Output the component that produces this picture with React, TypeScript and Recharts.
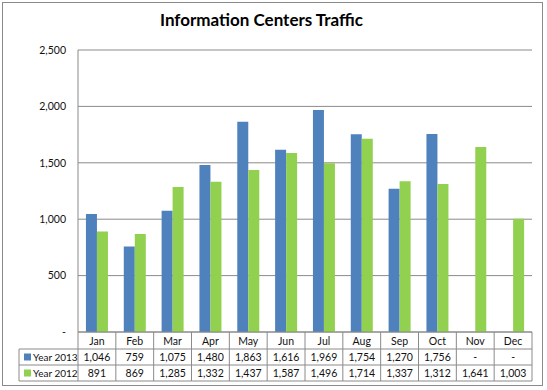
import React from "react";
import { BarChart, Bar, XAxis, YAxis, CartesianGrid } from "recharts";

const months = ["Jan", "Feb", "Mar", "Apr", "May", "Jun", "Jul", "Aug", "Sep", "Oct", "Nov", "Dec"];
const year2013: (number | null)[] = [1046, 759, 1075, 1480, 1863, 1616, 1969, 1754, 1270, 1756, null, null];
const year2012: number[] = [891, 869, 1285, 1332, 1437, 1587, 1496, 1714, 1337, 1312, 1641, 1003];
const yTicks = [0, 500, 1000, 1500, 2000, 2500];
const seriesNames = ["Year 2013", "Year 2012"];

const BLUE = "#4F81BD";
const GREEN = "#92D050";
const GRID = "#8a8a8a";
const FONT = "Lato, 'Liberation Sans', sans-serif";

const W = 547;
const H = 390;
const PLOT_LEFT = 78;
const PLOT_RIGHT = 532;
const PLOT_TOP = 50;
const PLOT_BOTTOM = 332;
const TABLE_LEFT = 19;
const ROW1 = 17;
const ROW2 = 33;
const ROW3 = 49;

const data = months.map((m, i) => ({ month: m, y2013: year2013[i], y2012: year2012[i] }));

const fmt = (v: number | null | undefined) => (v == null ? "-" : v.toLocaleString("en-US"));

const TableTick = (props: any) => {
  const { x, y, payload } = props;
  const i = payload.index;
  const colW = (PLOT_RIGHT - PLOT_LEFT) / months.length;
  const l = x - colW / 2;
  const r = x + colW / 2;
  const ts = { fontFamily: FONT, fontSize: 10.5, fill: "#111" } as const;
  const ls = { fontFamily: FONT, fontSize: 10, fill: "#111" } as const;
  return (
    <g>
      <line x1={r} x2={r} y1={y} y2={y + ROW3} stroke={GRID} />
      {i === 0 && <line x1={l} x2={l} y1={y} y2={y + ROW3} stroke={GRID} />}
      <line x1={l} x2={r} y1={y + ROW1} y2={y + ROW1} stroke={GRID} />
      <line x1={l} x2={r} y1={y + ROW2} y2={y + ROW2} stroke={GRID} />
      <line x1={l} x2={r} y1={y + ROW3} y2={y + ROW3} stroke={GRID} />
      <text x={x} y={y + 12.5} textAnchor="middle" {...ts}>{months[i]}</text>
      <text x={x} y={y + 29} textAnchor="middle" {...ts}>{fmt(year2013[i])}</text>
      <text x={x} y={y + 45} textAnchor="middle" {...ts}>{fmt(year2012[i])}</text>
      {i === 0 && (
        <g>
          <line x1={TABLE_LEFT} x2={l} y1={y + ROW1} y2={y + ROW1} stroke={GRID} />
          <line x1={TABLE_LEFT} x2={l} y1={y + ROW2} y2={y + ROW2} stroke={GRID} />
          <line x1={TABLE_LEFT} x2={l} y1={y + ROW3} y2={y + ROW3} stroke={GRID} />
          <line x1={TABLE_LEFT} x2={TABLE_LEFT} y1={y + ROW1} y2={y + ROW3} stroke={GRID} />
          <rect x={TABLE_LEFT + 5} y={y + 21.5} width={7} height={7} fill={BLUE} />
          <text x={TABLE_LEFT + 14} y={y + 29} {...ls}>{seriesNames[0]}</text>
          <rect x={TABLE_LEFT + 5} y={y + 37.5} width={7} height={7} fill={GREEN} />
          <text x={TABLE_LEFT + 14} y={y + 45} {...ls}>{seriesNames[1]}</text>
        </g>
      )}
    </g>
  );
};

export default function App() {
  return (
    <div style={{ position: "fixed", left: 0, top: 0, width: W, height: H, background: "#fff" }}>
      <div
        style={{
          position: "absolute",
          left: 2,
          top: 2,
          width: 539,
          height: 382,
          border: `1px solid ${GRID}`,
        }}
      />
      <div
        style={{
          position: "absolute",
          left: 0,
          top: 9,
          width: 523,
          textAlign: "center",
          fontFamily: FONT,
          fontWeight: 700,
          fontSize: 17,
          color: "#000",
        }}
      >
        Information Centers Traffic
      </div>
      <div style={{ position: "absolute", left: 0, top: 0 }}>
        <BarChart
          width={W}
          height={H}
          data={data}
          margin={{ top: PLOT_TOP, right: W - PLOT_RIGHT, bottom: 9, left: 20 }}
          barCategoryGap="21%"
          barGap={0}
        >
          <CartesianGrid vertical={false} stroke={GRID} strokeWidth={1} />
          <YAxis
            width={PLOT_LEFT - 20}
            domain={[0, 2500]}
            ticks={yTicks}
            interval={0}
            tickFormatter={(v: number) => (v === 0 ? "-" : v.toLocaleString("en-US"))}
            tickLine={false}
            tickSize={0}
            tickMargin={12}
            axisLine={{ stroke: GRID }}
            tick={{ fontFamily: FONT, fontSize: 10.5, fill: "#111" }}
          />
          <XAxis
            dataKey="month"
            height={H - 9 - PLOT_BOTTOM}
            interval={0}
            tickLine={false}
            tickSize={0}
            tickMargin={0}
            axisLine={{ stroke: GRID }}
            tick={<TableTick />}
          />
          <Bar dataKey="y2013" name={seriesNames[0]} fill={BLUE} isAnimationActive={false} />
          <Bar dataKey="y2012" name={seriesNames[1]} fill={GREEN} isAnimationActive={false} />
        </BarChart>
      </div>
    </div>
  );
}
